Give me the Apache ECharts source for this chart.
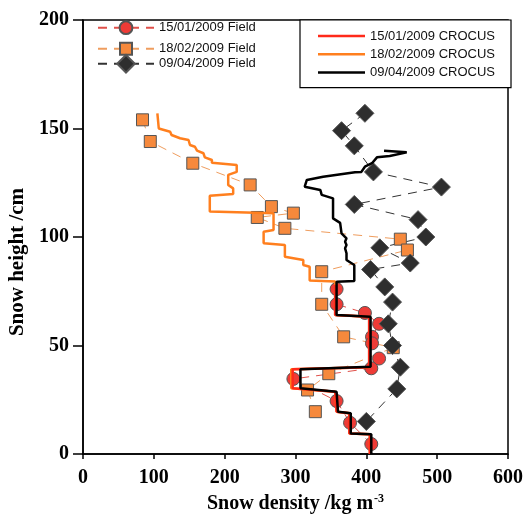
<!DOCTYPE html>
<html>
<head>
<meta charset="utf-8">
<script src="https://cdn.jsdelivr.net/npm/echarts@6/dist/echarts.min.js"></script>
<style>html,body{margin:0;padding:0;background:#fff}#c{width:529px;height:514px}</style>
</head>
<body>
<div id="c"></div>
<script>
// ---- data ----
const xTicks = [0, 100, 200, 300, 400, 500, 600];
const yTicks = [0, 50, 100, 150, 200];

const fieldJanDensity = [358, 358, 398, 418, 408, 408, 418, 407, 297, 358, 377, 407];
const fieldJanHeight  = [76, 69, 65, 60, 54, 51, 44, 39.5, 34.6, 24.4, 14.4, 4.6];

const fieldFebDensity = [84, 95, 155, 236, 266, 297, 246, 285, 448, 458, 337, 337, 368, 438, 347, 317, 328];
const fieldFebHeight  = [154, 144, 134, 124, 114, 111, 109, 104, 99, 94, 84, 69, 54, 49, 37, 29.5, 19.5];

const fieldAprDensity = [398, 365, 383, 410, 506, 383, 473, 484, 419, 462, 406, 426, 437, 431, 437, 448, 443, 400];
const fieldAprHeight  = [157, 149, 142, 130, 123, 115, 108, 100, 95, 88, 85, 77, 70, 60, 50, 40, 30, 15];

const crocusJanDensity = [356, 356, 404, 404, 296, 296, 356, 358, 376, 376, 405, 405];
const crocusJanHeight  = [78, 64, 63.3, 40, 39, 30.3, 28.7, 19.5, 18.8, 9.5, 9.1, 0];

const crocusFebDensity = [105, 107, 123, 125, 137, 149, 151, 158, 161, 170, 172, 182, 182, 217, 217, 205, 205, 212, 212, 179, 179, 269, 269, 255, 255, 285, 285, 311, 311, 320, 320, 356, 356, 404, 404, 294, 294, 356, 358, 376, 376, 405, 405];
const crocusFebHeight  = [157, 150, 148.5, 147, 145.5, 144.7, 142.4, 141.6, 139.8, 138.6, 136.7, 135.5, 134.2, 133.2, 130, 128.6, 124, 122.4, 119.8, 119, 111.7, 111, 103.2, 102.4, 97.1, 96.3, 90.9, 89.4, 87.1, 86.3, 80, 79.5, 64, 63.3, 40, 39, 30.3, 28.7, 19.5, 18.8, 9.5, 9.1, 0];

const crocusAprDensity = [425, 457, 433, 415, 408, 398, 393, 384, 382, 339, 316, 313, 335, 337, 353, 353, 363, 365, 372, 370, 372, 370, 372, 372, 383, 383, 358, 358, 406, 406, 307, 307, 358, 360, 378, 378, 407, 407];
const crocusAprHeight  = [139.8, 139, 137.3, 136.7, 134, 132.4, 130, 129.8, 128.9, 127.8, 126.3, 123.2, 121.7, 119.4, 117.8, 108.6, 106.5, 101.7, 99.4, 97.8, 96.3, 94.8, 92.5, 89.4, 87.1, 79.7, 79.4, 64, 63.3, 40.2, 39, 30.3, 28.7, 19.5, 18.8, 9.5, 9.1, 0];

const seriesNames = ['15/01/2009 Field', '18/02/2009 Field', '09/04/2009 Field',
                     '15/01/2009 CROCUS', '18/02/2009 CROCUS', '09/04/2009 CROCUS'];

// ---- build ----
const zip = (a, b) => a.map((v, i) => [v, b[i]]);
const chart = echarts.init(document.getElementById('c'), null, {renderer: 'canvas'});
const serif = 'Liberation Serif';
const sans = 'Liberation Sans';

function fieldSeries(name, xs, ys, symbol, size, fill, dash) {
  return {
    name, type: 'line', data: zip(xs, ys), z: 2,
    symbol, symbolSize: size, showAllSymbol: true,
    itemStyle: {color: fill, borderColor: '#555', borderWidth: 1},
    lineStyle: {color: dash, width: 1, type: [9, 7]},
    emphasis: {disabled: true}, animation: false
  };
}
function crocusSeries(name, xs, ys, color, z) {
  return {
    name, type: 'line', data: zip(xs, ys), z,
    symbol: 'none',
    itemStyle: {color},
    lineStyle: {color, width: 2.5},
    emphasis: {disabled: true}, animation: false
  };
}
function fieldLegend(name, top, h) {
  return {
    data: [name], orient: 'vertical', left: 97, top,
    itemWidth: 56, itemHeight: h, padding: 0,
    textStyle: {fontFamily: sans, fontSize: 13, color: '#111', lineHeight: 12},
    selectedMode: false
  };
}

chart.setOption({
  animation: false,
  backgroundColor: '#fff',
  grid: {left: 83, right: 21, top: 20, bottom: 60, show: true, borderColor: '#000', borderWidth: 1.5,
         containLabel: false, outerBoundsMode: 'none'},
  xAxis: {
    type: 'value', min: xTicks[0], max: xTicks[xTicks.length - 1], interval: 100,
    name: 'Snow density /kg m{sup|-3}', nameLocation: 'middle', nameGap: 30,
    nameTextStyle: {fontFamily: serif, fontWeight: 'bold', fontSize: 20, color: '#000',
      rich: {sup: {fontFamily: serif, fontWeight: 'bold', fontSize: 12, color: '#000', verticalAlign: 'top', padding: [0, 0, 9, 1]}}},
    axisLine: {show: true, lineStyle: {color: '#000', width: 1.5}},
    axisTick: {show: true, inside: false, length: 5, lineStyle: {color: '#000', width: 1.5}},
    axisLabel: {fontFamily: serif, fontWeight: 'bold', fontSize: 20, color: '#000', margin: 14},
    splitLine: {show: false}
  },
  yAxis: {
    type: 'value', min: yTicks[0], max: yTicks[yTicks.length - 1], interval: 50,
    name: 'Snow height /cm', nameLocation: 'middle', nameGap: 50, nameRotate: 90,
    nameTextStyle: {fontFamily: serif, fontWeight: 'bold', fontSize: 21, color: '#000', padding: [0, 50, 0, 0]},
    axisLine: {show: true, lineStyle: {color: '#000', width: 1.5}},
    axisTick: {show: true, inside: false, length: 10, lineStyle: {color: '#000', width: 1.5}},
    axisLabel: {fontFamily: serif, fontWeight: 'bold', fontSize: 20, color: '#000', margin: 14},
    splitLine: {show: false}
  },
  legend: [
    fieldLegend(seriesNames[0], 20.3, 16),
    fieldLegend(seriesNames[1], 41.8, 15),
    fieldLegend(seriesNames[2], 54, 22),
    {
      data: seriesNames.slice(3), orient: 'vertical', left: 300, top: 20,
      icon: 'rect', itemWidth: 47, itemHeight: 2.5, itemGap: 4.3, padding: [9, 16, 8, 18],
      borderColor: '#000', borderWidth: 1.2, backgroundColor: '#fff',
      textStyle: {fontFamily: sans, fontSize: 13, color: '#111', lineHeight: 14},
      selectedMode: false
    }
  ],
  series: [
    fieldSeries(seriesNames[0], fieldJanDensity, fieldJanHeight, 'circle', 13, '#ee3b36', '#e0504a'),
    fieldSeries(seriesNames[1], fieldFebDensity, fieldFebHeight, 'rect', 12, '#f6893c', '#ef9d5e'),
    fieldSeries(seriesNames[2], fieldAprDensity, fieldAprHeight, 'diamond', 18, '#2e2e2e', '#333'),
    crocusSeries(seriesNames[4], crocusFebDensity, crocusFebHeight, '#ff7f1e', 3),
    crocusSeries(seriesNames[3], crocusJanDensity, crocusJanHeight, '#ff2a1a', 4),
    crocusSeries(seriesNames[5], crocusAprDensity, crocusAprHeight, '#000000', 5)
  ]
});
</script>
</body>
</html>
